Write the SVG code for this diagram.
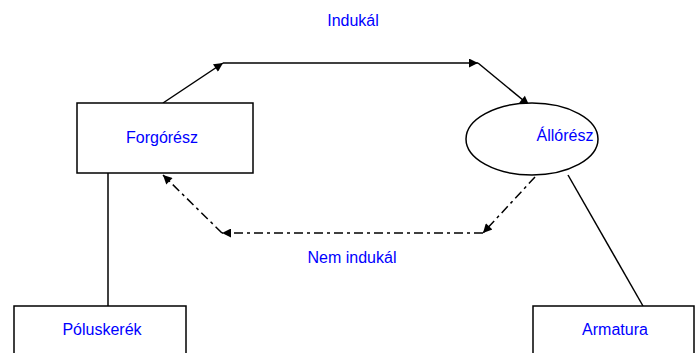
<svg xmlns="http://www.w3.org/2000/svg" width="695" height="353" viewBox="0 0 695 353">
<style>
.box{fill:#fff;stroke:#000;stroke-width:1.5}
.lbl{font-family:"Liberation Sans",Arial,sans-serif;font-size:16px;fill:#0000ff;text-anchor:middle}
.ln{fill:none;stroke:#000;stroke-width:1.5}
.dd{stroke-dasharray:9 4 3 4}
</style>
<defs>
<marker id="ah" viewBox="0 0 10 10" refX="10" refY="5" markerWidth="11" markerHeight="9" orient="auto" markerUnits="userSpaceOnUse">
<path d="M0,0 L10,5 L0,10 z" fill="#000"/>
</marker>
</defs>
<rect width="695" height="353" fill="#fff"/>
<g id="connectors">
<polyline class="ln" points="163,103 223,63" marker-end="url(#ah)"/>
<polyline class="ln" points="223,63 478,63" marker-end="url(#ah)"/>
<polyline class="ln" points="478,63 529,105" marker-end="url(#ah)"/>
<polyline class="ln dd" points="535,177 483,233" marker-end="url(#ah)"/>
<polyline class="ln dd" points="483,233 222,233" marker-end="url(#ah)"/>
<polyline class="ln dd" points="222,233 163,175" marker-end="url(#ah)"/>
<line class="ln" x1="108" y1="173" x2="108" y2="306"/>
<line class="ln" x1="568" y1="175" x2="643" y2="306"/>
</g>
<g id="forgoresz">
<rect class="box" x="77" y="103" width="176" height="70"/>
<text class="lbl" x="162" y="143">Forgórész</text>
</g>
<g id="alloresz">
<ellipse class="box" cx="532" cy="139" rx="66" ry="36"/>
<text class="lbl" x="565" y="141">Állórész</text>
</g>
<g id="poluskerek">
<rect class="box" x="14" y="306" width="172" height="60"/>
<text class="lbl" x="102" y="335">Póluskerék</text>
</g>
<g id="armatura">
<rect class="box" x="533" y="306" width="161" height="60"/>
<text class="lbl" x="615" y="335">Armatura</text>
</g>
<text class="lbl" x="353" y="26">Indukál</text>
<text class="lbl" x="352" y="263">Nem indukál</text>
</svg>
